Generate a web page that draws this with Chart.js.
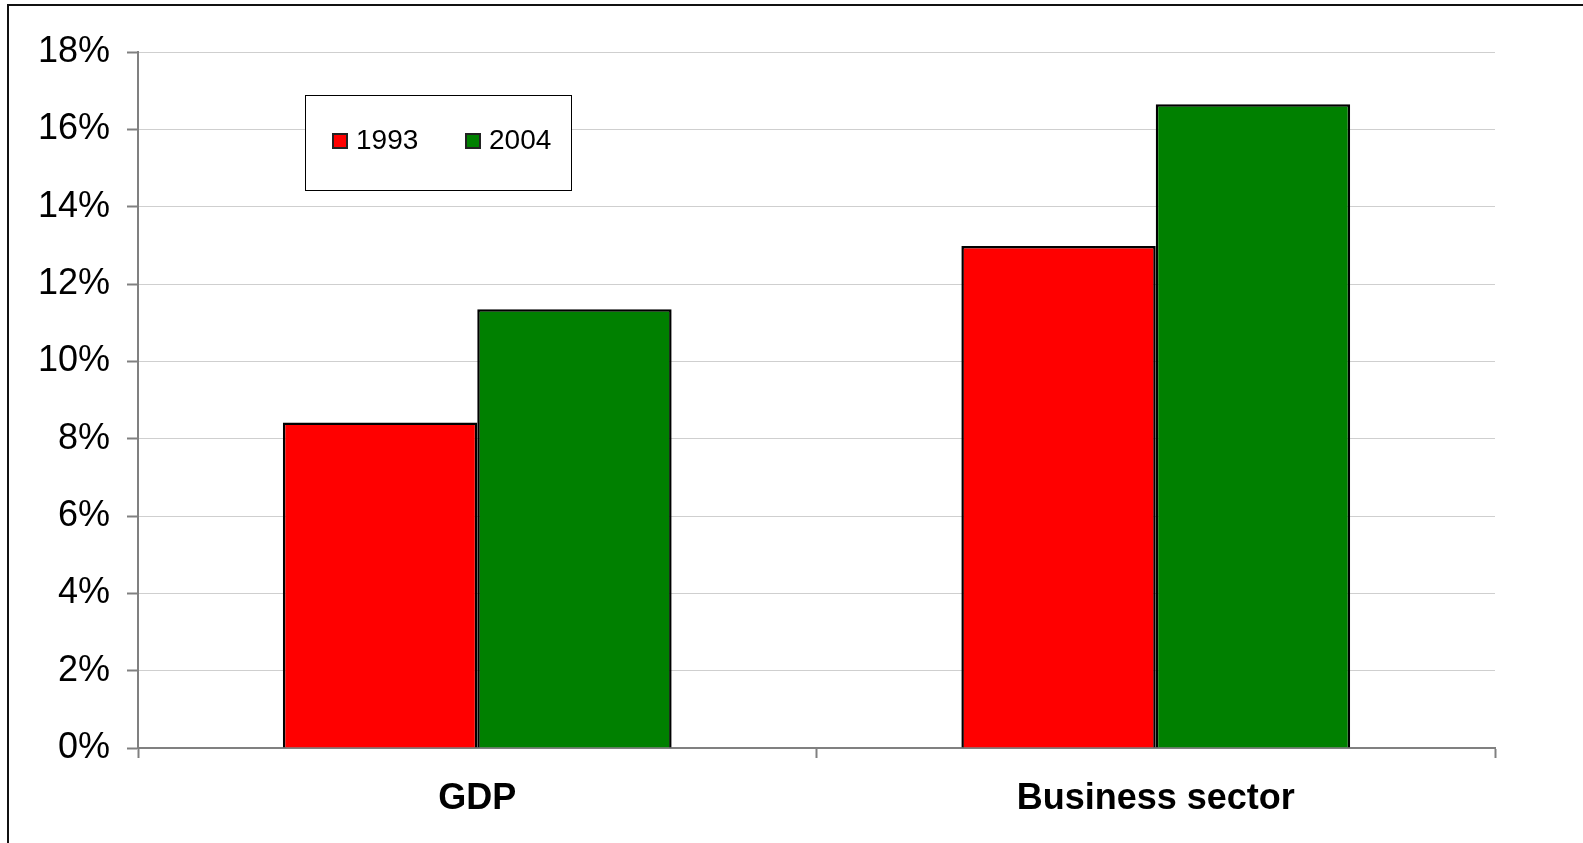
<!DOCTYPE html>
<html>
<head>
<meta charset="utf-8">
<script src="https://cdn.jsdelivr.net/npm/chart.js@4.4.1/dist/chart.umd.min.js"></script>
<style>
  html, body { margin: 0; padding: 0; background: #fff; }
  #wrap { width: 1583px; height: 843px; position: relative; }
</style>
</head>
<body>
<div id="wrap"><canvas id="growthChart" width="1583" height="843"></canvas></div>
<script>
// Data //
const categories = ["GDP", "Business sector"];
const seriesNames = ["1993", "2004"];
const values1993 = [8.42, 12.98];
const values2004 = [11.35, 16.65];
const seriesColors = ["#ff0000", "#008000"];
const yTicks = [0, 2, 4, 6, 8, 10, 12, 14, 16, 18];

const fontFamily = "'Liberation Sans', Arial, sans-serif";

// White background and the frame lines on the left and top
const framePlugin = {
    id: "frame",
    beforeDraw(chart) {
        const ctx = chart.ctx;
        ctx.save();
        ctx.fillStyle = "#fff";
        ctx.fillRect(0, 0, chart.width, chart.height);
        ctx.strokeStyle = "#111";
        ctx.lineWidth = 2;
        ctx.beginPath();
        ctx.moveTo(8, chart.height);
        ctx.lineTo(8, 5);
        ctx.lineTo(chart.width, 5);
        ctx.stroke();
        ctx.restore();
    }
};

// Boxed legend inside the plot area
const legendBoxPlugin = {
    id: "legendBox",
    afterDatasetsDraw(chart) {
        const ctx = chart.ctx;
        const box = { x: 305, y: 95, w: 266, h: 95 };
        ctx.save();
        ctx.fillStyle = "#fff";
        ctx.fillRect(box.x, box.y, box.w, box.h);
        ctx.strokeStyle = "#000";
        ctx.lineWidth = 1;
        ctx.strokeRect(box.x + 0.5, box.y + 0.5, box.w, box.h);

        ctx.font = "28px " + fontFamily;
        ctx.textBaseline = "middle";
        const itemX = [333, 466];
        chart.data.datasets.forEach((ds, i) => {
            const sx = itemX[i];
            const sy = 134;
            ctx.fillStyle = ds.backgroundColor;
            ctx.fillRect(sx, sy, 14, 14);
            ctx.strokeStyle = "#222";
            ctx.lineWidth = 2;
            ctx.strokeRect(sx, sy, 14, 14);
            ctx.fillStyle = "#000";
            ctx.fillText(ds.label, sx + 23, sy + 7);
        });
        ctx.restore();
    }
};

const canvas = document.getElementById("growthChart");
const ctx2d = canvas.getContext("2d");

const myChart = new Chart(ctx2d, {
    type: "bar",
    data: {
        labels: categories,
        datasets: [
            {
                label: seriesNames[0],
                data: values1993,
                backgroundColor: seriesColors[0],
                borderColor: "#000",
                borderWidth: 2.5
            },
            {
                label: seriesNames[1],
                data: values2004,
                backgroundColor: seriesColors[1],
                borderColor: "#000",
                borderWidth: 2.5
            }
        ]
    },
    options: {
        responsive: false,
        animation: false,
        devicePixelRatio: 1,
        categoryPercentage: 0.573,
        barPercentage: 1.0,
        layout: {
            padding: { left: 20, top: 52, right: 88, bottom: 0 }
        },
        plugins: {
            legend: { display: false },
            tooltip: { enabled: false }
        },
        scales: {
            x: {
                border: { color: "#808080", width: 2 },
                grid: {
                    offset: true,
                    drawOnChartArea: false,
                    drawTicks: true,
                    tickLength: 10,
                    tickColor: "#808080",
                    tickWidth: 2
                },
                ticks: {
                    color: "#000",
                    padding: 19,
                    font: { family: fontFamily, size: 36, weight: "bold" }
                },
                afterFit(scale) {
                    scale.height = 95;
                }
            },
            y: {
                min: 0,
                max: 18,
                border: { color: "#808080", width: 2 },
                grid: {
                    color: "#cfcfcf",
                    lineWidth: 1,
                    borderDash: [2, 3],
                    drawTicks: true,
                    tickLength: 11,
                    tickColor: "#808080",
                    tickWidth: 2,
                    tickBorderDash: []
                },
                afterBuildTicks(scale) {
                    scale.ticks = yTicks.map(v => ({ value: v }));
                },
                ticks: {
                    color: "#000",
                    padding: 17,
                    font: { family: fontFamily, size: 36 },
                    callback: value => value + "%"
                },
                afterFit(scale) {
                    scale.width = 118;
                }
            }
        }
    },
    plugins: [framePlugin, legendBoxPlugin]
});
</script>
</body>
</html>
